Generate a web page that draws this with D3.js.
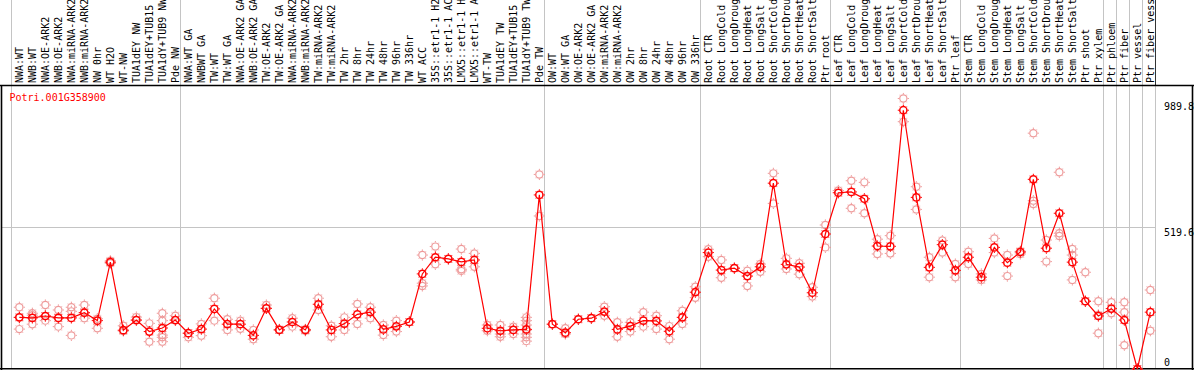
<!DOCTYPE html>
<html>
<head>
<meta charset="utf-8">
<script src="https://cdn.jsdelivr.net/npm/d3@7"></script>
<style>
  html, body { margin: 0; padding: 0; background: #fff; }
  svg { display: block; }
  text { font-family: "DejaVu Sans Mono", monospace; font-size: 10px; }
</style>
</head>
<body>
<svg id="chart" width="1194" height="370"></svg>
<script>
const geneId = "Potri.001G358900";

const categories = [
  "NWA:WT","NWB:WT","NWA:OE-ARK2","NWB:OE-ARK2","NWA:miRNA-ARK2","NWB:miRNA-ARK2","NW 0hr","WT H2O","WT-NW","TUA1dEY NW","TUA1dEY+TUB15","TUA1dY+TUB9 NW","Pde NW",
  "NWA:WT GA","NWBWT GA","TW:WT","TW:WT GA","NWA:OE-ARK2 GA","NWB:OE-ARK2 GA","TW:OE-ARK2","TW:OE-ARK2 GA","NWA:miRNA-ARK2","NWB:miRNA-ARK2","TW:miRNA-ARK2","TW:miRNA-ARK2",
  "TW 2hr","TW 8hr","TW 24hr","TW 48hr","TW 96hr","TW 336hr","WT ACC","35S::etr1-1 H2","35S::etr1-1 AC","LMX5::etr1-1 H","LMX5::etr1-1 A","WT-TW","TUA1dEY TW","TUA1dEY+TUB15","TUA1dY+TUB9 TW","Pde TW",
  "OW:WT","OW:WT GA","OW:OE-ARK2","OW:OE-ARK2 GA","OW:miRNA-ARK2","OW:miRNA-ARK2","OW 2hr","OW 8hr","OW 24hr","OW 48hr","OW 96hr","OW 336hr",
  "Root CTR","Root LongCold","Root LongDroug","Root LongHeat","Root LongSalt","Root ShortCold","Root ShortDrou","Root ShortHeat","Root ShortSalt","Ptr root",
  "Leaf CTR","Leaf LongCold","Leaf LongDroug","Leaf LongHeat","Leaf LongSalt","Leaf ShortCold","Leaf ShortDrou","Leaf ShortHeat","Leaf ShortSalt","Ptr leaf",
  "Stem CTR","Stem LongCold","Stem LongDroug","Stem LongHeat","Stem LongSalt","Stem ShortCold","Stem ShortDrou","Stem ShortHeat","Stem ShortSalt","Ptr shoot","Ptr xylem",
  "Ptr phloem","Ptr fiber","Ptr vessel","Ptr fiber vess"
];

const groupSizes = [13, 28, 12, 10, 10, 11, 1, 1, 1, 1];

const means = [
  189,187,194,187,187,206,177,391,142,179,137,150,179,
  131,146,220,164,164,123,222,143,172,143,237,143,166,200,208,145,156,172,348,409,403,392,399,149,140,143,145,637,
  164,133,182,186,210,145,157,177,176,138,189,281,
  426,362,369,340,374,680,383,373,279,494,
  645,648,623,450,449,947,628,372,455,361,
  409,336,445,389,428,694,442,570,391,248,194,
  221,179,0,208
];

const replicates = [
  [226,189,146],[204,197,164],[234,177,194],[216,155,187],[226,211,123],[234,186,206],[184,149],[396,387],[158,139],[190,179],[167,100],[204,177,124,116,100],[195,179],
  [131,116],[165,122],[259,177],[182,143],[177,147],[143,109],[234,222],[145,143],[186,155],[145,140],[259,216],[158,118],
  [189,143],[238,165],[226,186],[161,124],[177,137],[172],[417,314,304],[448,383],[403],[439,365,359],[423,374],[161,140],[161,128,118],[155,143,128],[189,177,161,143,128,116,102],[712,560],
  [164],[149,128],[182],[186],[228,195],[171,118],[171,137],[208,155],[195,146],[157,109],[213,165],[301,261],
  [438,411],[399,334],[369],[360,304],[384,356],[716,606],[405,366],[387,347],[299,265],[527,445],
  [653],[689,588],[683,570],[475,421],[488,423],[989.8,905],[667,584],[409,336],[470,426],[384,336],
  [429,384],[348,326],[478,426],[417,340],[431,421],[863,616,604],[472,393],[720,497,487],[439,417,326],[354,248],[248,198,131],
  [244,204],[244,208,87],[0],[289,140]
];

const maxValue = 989.8;
const axisTicks = [989.8, 519.6, 0];
const axisTickLabels = ["989.8", "519.6", "0"];

const svg = d3.select("#chart");
const W = 1194, H = 370;
const plotTop = 85.5, plotBottom = 368.5, frameLeft = 1.5, frameRight = 1192.5;

const x = d3.scaleBand().domain(d3.range(categories.length)).range([10.7, 1154.7]).padding(0);
const px = i => x(i) + x.bandwidth() * 0.665;
const y = d3.scaleLinear().domain([0, maxValue * 1.05]).range([369, 85]);

// group separators
const bounds = [0];
groupSizes.forEach(s => bounds.push(bounds[bounds.length - 1] + s));
const sepX = k => x.range()[0] + k * x.step();

svg.append("g").selectAll("line").data(bounds).join("line")
  .attr("x1", d => Math.round(sepX(d)) + 0.5).attr("x2", d => Math.round(sepX(d)) + 0.5)
  .attr("y1", 0).attr("y2", plotBottom)
  .attr("stroke", "#c4c4c4").attr("stroke-width", 1);

// label area end line (dark)
svg.append("line")
  .attr("x1", Math.round(sepX(categories.length)) + 0.5).attr("x2", Math.round(sepX(categories.length)) + 0.5)
  .attr("y1", 0).attr("y2", plotTop)
  .attr("stroke", "#333").attr("stroke-width", 1);

// midline
svg.append("line")
  .attr("x1", frameLeft).attr("x2", Math.round(sepX(categories.length)) + 0.5)
  .attr("y1", Math.round(y(maxValue * 1.05 / 2)) + 0.5).attr("y2", Math.round(y(maxValue * 1.05 / 2)) + 0.5)
  .attr("stroke", "#c4c4c4").attr("stroke-width", 1);

// frame
svg.append("line").attr("x1", 0).attr("x2", W).attr("y1", plotTop).attr("y2", plotTop).attr("stroke", "#000").attr("stroke-width", 1.3);
svg.append("line").attr("x1", 0).attr("x2", W).attr("y1", plotBottom + 0.3).attr("y2", plotBottom + 0.3).attr("stroke", "#000").attr("stroke-width", 1.6);
svg.append("line").attr("x1", frameLeft).attr("x2", frameLeft).attr("y1", plotTop).attr("y2", H).attr("stroke", "#000").attr("stroke-width", 1.6);
svg.append("line").attr("x1", frameRight).attr("x2", frameRight).attr("y1", plotTop).attr("y2", H).attr("stroke", "#000").attr("stroke-width", 1.6);

// category labels
svg.append("g").selectAll("text").data(categories).join("text")
  .attr("transform", (d, i) => `translate(${px(i)},83) rotate(-90)`)
  .attr("dy", "0.35em")
  .attr("text-anchor", "start")
  .attr("fill", "#000")
  .text(d => d);

// title
svg.append("text").attr("x", 9.5).attr("y", 97).attr("dy", "0.35em").attr("fill", "#ff0000").text(geneId);

// axis labels
svg.append("g").selectAll("text").data(axisTicks).join("text")
  .attr("x", 1164)
  .attr("y", (d, i) => i === 0 ? y(d) + 8 : (i === 1 ? y(d) + 5 : y(d) - 7))
  .attr("dy", "0.35em")
  .attr("fill", "#000")
  .text((d, i) => axisTickLabels[i]);

function marker(g, cx, cy, color, sw) {
  g.append("circle").attr("cx", cx).attr("cy", cy).attr("r", 3.6)
    .attr("fill", "none").attr("stroke", color).attr("stroke-width", sw);
  const t = [[0,-1],[0,1],[-1,0],[1,0]];
  t.forEach(([dx, dy]) => {
    g.append("line")
      .attr("x1", cx + dx * 4.2).attr("y1", cy + dy * 4.2)
      .attr("x2", cx + dx * 5.6).attr("y2", cy + dy * 5.6)
      .attr("stroke", color).attr("stroke-width", 1);
  });
  const dg = [[-1,-1],[1,-1],[-1,1],[1,1]];
  dg.forEach(([dx, dy]) => {
    g.append("rect")
      .attr("x", cx + dx * 3.4 - 0.5).attr("y", cy + dy * 3.4 - 0.5)
      .attr("width", 1).attr("height", 1)
      .attr("fill", color).attr("opacity", 0.7);
  });
}

// replicates
const repG = svg.append("g");
replicates.forEach((arr, i) => {
  arr.forEach(v => marker(repG, px(i), y(v), "#ee9a9a", 1.2));
});

// mean line
const line = d3.line().x((d, i) => px(i)).y(d => y(d));
svg.append("path").datum(means)
  .attr("d", line)
  .attr("fill", "none").attr("stroke", "#ff0000").attr("stroke-width", 1.2);

// mean markers
const meanG = svg.append("g");
means.forEach((v, i) => marker(meanG, px(i), y(v), "#ff0000", 1.5));
</script>
</body>
</html>
